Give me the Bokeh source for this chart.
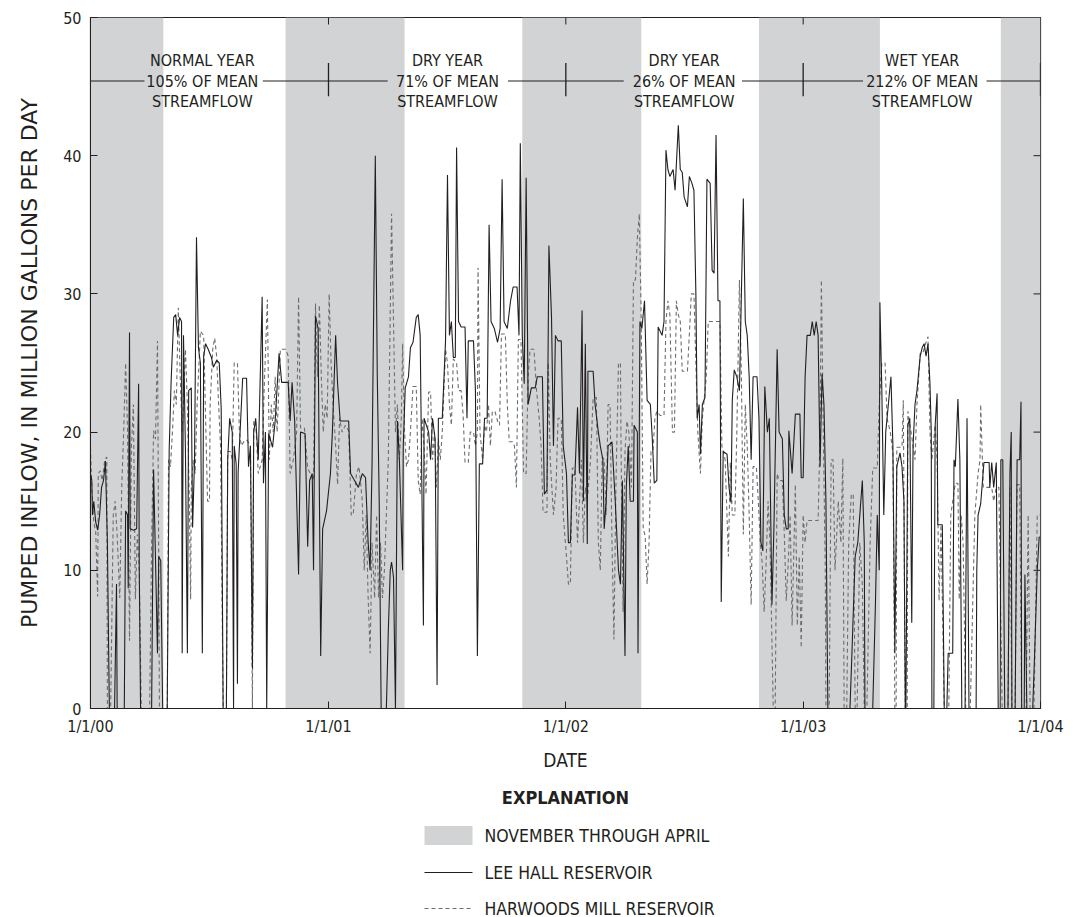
from bokeh.plotting import figure
from bokeh.layouts import column
from bokeh.models import Range1d, FixedTicker, Label
from bokeh.core.properties import value
from bokeh.embed import file_html
from bokeh.resources import INLINE

# Days are counted from 1 January 2000; values in million gallons per day.
year_ticks = [0, 366, 731, 1096, 1461]
year_labels = ["1/1/00", "1/1/01", "1/1/02", "1/1/03", "1/1/04"]
flow_ticks = [0, 10, 20, 30, 40, 50]

# November-through-April periods (day offsets)
band_start = [0, 300, 664, 1028, 1400]
band_end = [112, 483, 847, 1214, 1461]

# Water-year notes along the top of the chart
note_day = [172, 549, 913, 1279]
note_text = [
    "NORMAL YEAR\n105% OF MEAN\nSTREAMFLOW",
    "DRY YEAR\n71% OF MEAN\nSTREAMFLOW",
    "DRY YEAR\n26% OF MEAN\nSTREAMFLOW",
    "WET YEAR\n212% OF MEAN\nSTREAMFLOW",
]
note_rule_start = [0, 265, 642, 1002, 1378]
note_rule_end = [83, 457, 820, 1188, 1461]
note_rule_ticks = [366, 731, 1096, 1461]
NOTE_LEVEL = 45.4

# Lee Hall Reservoir pumped inflow
lee_day = [
    0, 2, 3, 5, 8, 11, 14, 17, 20, 23,
    26, 28, 29, 37, 40, 41, 52, 54, 57, 58,
    60, 61, 66, 71, 74, 75, 77, 94, 97, 100,
    103, 105, 108, 111, 118, 121, 124, 128, 131, 134,
    137, 140, 141, 143, 146, 149, 151, 155, 157, 160,
    163, 166, 169, 172, 174, 177, 181, 186, 189, 194,
    198, 201, 204, 209, 211, 214, 218, 220, 221, 224,
    226, 227, 234, 240, 243, 246, 249, 251, 254, 258,
    264, 266, 269, 271, 274, 280, 284, 290, 294, 304,
    307, 310, 314, 320, 323, 330, 334, 337, 341, 343,
    346, 350, 354, 357, 363, 369, 372, 377, 380, 384,
    397, 400, 406, 412, 418, 423, 427, 430, 433, 438,
    441, 444, 447, 455, 458, 461, 463, 466, 469, 472,
    475, 480, 481, 484, 489, 492, 496, 501, 504, 507,
    512, 513, 520, 523, 526, 530, 533, 535, 541, 546,
    549, 552, 555, 558, 561, 563, 566, 570, 576, 579,
    581, 589, 592, 595, 598, 603, 606, 610, 613, 616,
    621, 626, 630, 633, 636, 641, 646, 650, 656, 659,
    661, 664, 667, 670, 673, 678, 684, 687, 695, 698,
    702, 705, 709, 712, 715, 719, 724, 727, 732, 735,
    738, 741, 745, 749, 752, 756, 758, 761, 764, 765,
    773, 776, 781, 784, 788, 790, 793, 796, 802, 807,
    812, 815, 818, 822, 824, 827, 830, 835, 836, 841,
    842, 845, 848, 852, 856, 861, 864, 867, 871, 873,
    879, 882, 885, 888, 891, 896, 899, 904, 907, 910,
    913, 918, 921, 925, 928, 931, 933, 936, 938, 941,
    945, 948, 953, 956, 959, 962, 965, 968, 970, 973,
    979, 982, 985, 987, 990, 994, 998, 1001, 1004, 1007,
    1010, 1013, 1016, 1019, 1025, 1028, 1031, 1034, 1037, 1041,
    1044, 1048, 1051, 1056, 1059, 1064, 1067, 1070, 1073, 1074,
    1079, 1084, 1091, 1093, 1096, 1099, 1102, 1107, 1110, 1113,
    1116, 1119, 1122, 1125, 1128, 1131, 1134, 1168, 1171, 1176,
    1180, 1187, 1190, 1191, 1203, 1207, 1210, 1213, 1214, 1217,
    1220, 1223, 1227, 1231, 1234, 1237, 1240, 1245, 1248, 1251,
    1253, 1254, 1257, 1260, 1263, 1265, 1268, 1271, 1276, 1279,
    1282, 1285, 1288, 1291, 1293, 1294, 1297, 1299, 1302, 1303,
    1310, 1313, 1317, 1319, 1326, 1328, 1330, 1334, 1337, 1340,
    1345, 1348, 1351, 1362, 1363, 1365, 1369, 1374, 1382, 1383,
    1386, 1389, 1393, 1396, 1399, 1400, 1403, 1406, 1411, 1414,
    1416, 1417, 1422, 1425, 1429, 1431, 1432, 1436, 1437, 1440,
    1449, 1452, 1456, 1459, 1460,
]
lee_mgd = [
    17.0, 16.5, 14.0, 15.0, 13.5, 12.9, 14.0, 16.0, 16.5, 17.9,
    12.0, 3.8, 0, 0, 9.0, 0, 0, 14.3, 14.0, 8.7,
    27.2, 13.0, 12.9, 13.0, 23.5, 10.0, 0, 0, 17.3, 10.7,
    4.0, 11.0, 10.7, 0, 0, 18.7, 23.7, 28.3, 28.5, 27.0,
    28.3, 28.0, 4.0, 27.0, 18.7, 4.0, 23.0, 23.2, 13.1, 18.0,
    34.1, 26.1, 25.0, 4.0, 25.5, 26.4, 26.0, 25.4, 24.7, 25.2,
    25.0, 21.7, 0, 0, 18.0, 21.0, 20.0, 0, 19.0, 17.7,
    1.8, 17.0, 23.9, 23.9, 17.5, 19.0, 2.9, 20.0, 21.0, 18.0,
    29.8, 16.3, 20.0, 0, 19.9, 18.9, 20.8, 25.7, 23.6, 23.6,
    20.8, 23.6, 20.8, 9.7, 20.0, 19.9, 11.7, 16.5, 17.0, 10.0,
    28.4, 27.5, 3.8, 13.0, 14.3, 17.0, 20.0, 27.0, 23.5, 20.8,
    20.8, 17.0, 16.5, 16.0, 17.0, 16.7, 12.0, 10.0, 17.7, 40.0,
    24.2, 15.0, 0, 0, 5.6, 10.0, 10.6, 9.5, 0, 20.8,
    18.0, 10.0, 19.0, 23.2, 24.0, 26.1, 26.5, 28.3, 28.5, 27.0,
    6.0, 21.0, 20.0, 18.0, 21.0, 19.5, 1.7, 21.0, 21.0, 26.6,
    38.6, 27.0, 28.0, 25.4, 25.4, 40.6, 28.0, 27.6, 27.6, 21.0,
    26.6, 26.6, 23.0, 3.8, 17.7, 17.7, 21.0, 21.0, 35.0, 28.0,
    27.5, 26.5, 27.5, 38.3, 28.0, 27.5, 29.5, 30.5, 30.5, 27.0,
    40.9, 27.0, 23.5, 38.4, 22.0, 23.2, 23.2, 24.0, 24.0, 15.5,
    15.8, 33.5, 28.3, 19.0, 27.0, 26.6, 26.6, 19.0, 17.0, 12.0,
    12.0, 16.9, 16.9, 21.8, 17.0, 28.8, 15.0, 26.4, 11.9, 24.4,
    24.4, 22.0, 20.0, 19.0, 18.0, 13.0, 15.0, 19.0, 19.3, 15.0,
    10.0, 9.0, 16.5, 3.8, 16.0, 19.0, 15.0, 15.0, 20.5, 20.0,
    4.0, 28.0, 27.5, 29.5, 22.3, 22.0, 19.5, 16.3, 16.5, 27.6,
    27.0, 28.0, 40.4, 39.0, 38.5, 39.0, 37.5, 42.2, 39.0, 38.8,
    37.0, 36.3, 38.5, 38.0, 37.5, 30.0, 21.0, 22.0, 18.4, 22.0,
    22.5, 38.3, 38.0, 31.7, 31.5, 41.5, 29.5, 29.5, 7.7, 18.6,
    18.4, 16.0, 14.9, 22.3, 24.5, 24.0, 23.0, 30.0, 36.9, 28.0,
    27.0, 24.0, 18.0, 24.0, 24.0, 21.0, 12.0, 11.4, 23.3, 20.0,
    21.0, 7.5, 13.0, 26.0, 20.0, 19.5, 14.0, 13.0, 13.0, 20.1,
    17.0, 21.3, 21.3, 16.7, 16.7, 24.0, 27.0, 27.0, 28.0, 27.0,
    28.0, 27.0, 17.5, 24.2, 22.0, 15.0, 0, 0, 4.0, 11.0,
    12.0, 16.5, 12.0, 0, 0, 7.3, 14.0, 10.0, 29.4, 23.0,
    14.0, 20.0, 22.0, 24.0, 19.0, 4.0, 17.5, 18.5, 17.5, 15.0,
    0, 0, 20.5, 21.0, 6.2, 19.0, 22.0, 23.0, 25.5, 26.1,
    26.4, 25.5, 26.4, 23.5, 20.0, 0, 0, 20.5, 22.8, 13.3,
    13.3, 0, 0, 4.0, 4.0, 18.0, 17.5, 22.4, 18.0, 0,
    0, 21.0, 0, 0, 10.0, 14.0, 14.8, 17.8, 17.8, 16.0,
    17.8, 16.0, 17.8, 0, 0, 18.0, 18.0, 0, 0, 17.0,
    20.0, 0, 0, 18.0, 18.0, 22.2, 0, 0, 9.7, 0,
    0, 4.0, 10.0, 12.4, 12.4,
]

# Harwoods Mill Reservoir pumped inflow
harwoods_day = [
    0, 2, 5, 8, 11, 12, 15, 18, 22, 25,
    26, 31, 35, 38, 41, 45, 48, 51, 54, 57,
    60, 63, 66, 69, 72, 75, 78, 91, 94, 97,
    100, 103, 105, 106, 118, 120, 123, 126, 129, 132,
    135, 138, 141, 146, 149, 152, 154, 155, 158, 161,
    164, 169, 174, 177, 180, 183, 184, 188, 191, 194,
    197, 200, 204, 209, 211, 215, 218, 221, 226, 229,
    232, 237, 241, 246, 249, 251, 254, 258, 264, 267,
    272, 275, 278, 281, 284, 287, 292, 300, 304, 307,
    312, 317, 320, 323, 329, 334, 338, 343, 346, 349,
    352, 355, 358, 361, 364, 367, 370, 373, 377, 380,
    383, 387, 392, 397, 401, 404, 409, 413, 418, 421,
    424, 427, 430, 433, 437, 440, 443, 446, 449, 452,
    455, 458, 463, 466, 469, 472, 475, 478, 480, 483,
    486, 489, 492, 496, 501, 504, 507, 510, 513, 516,
    520, 523, 526, 529, 532, 535, 538, 541, 546, 549,
    552, 555, 558, 563, 566, 570, 573, 576, 581, 584,
    589, 592, 595, 596, 599, 603, 606, 609, 612, 615,
    618, 622, 626, 629, 632, 638, 641, 644, 649, 652,
    655, 658, 662, 666, 670, 673, 676, 682, 686, 690,
    693, 696, 702, 704, 707, 712, 716, 719, 724, 727,
    732, 735, 738, 741, 745, 749, 752, 755, 758, 761,
    764, 769, 773, 778, 781, 784, 787, 790, 793, 796,
    799, 802, 805, 808, 812, 815, 816, 819, 822, 825,
    828, 832, 835, 838, 841, 844, 847, 850, 853, 856,
    859, 862, 865, 868, 871, 876, 882, 885, 888, 891,
    895, 898, 901, 904, 907, 910, 918, 921, 924, 928,
    931, 934, 938, 941, 944, 947, 950, 968, 971, 976,
    981, 984, 987, 991, 994, 998, 1001, 1004, 1007, 1010,
    1013, 1016, 1019, 1024, 1027, 1030, 1033, 1036, 1039, 1042,
    1045, 1050, 1053, 1056, 1059, 1064, 1067, 1070, 1073, 1076,
    1079, 1084, 1087, 1090, 1093, 1096, 1099, 1102, 1119, 1122,
    1124, 1127, 1130, 1131, 1136, 1139, 1142, 1145, 1150, 1154,
    1157, 1159, 1163, 1166, 1170, 1173, 1176, 1179, 1183, 1187,
    1190, 1194, 1199, 1203, 1210, 1213, 1217, 1222, 1225, 1230,
    1234, 1237, 1239, 1240, 1248, 1250, 1253, 1256, 1257, 1262,
    1265, 1268, 1271, 1276, 1280, 1285, 1288, 1291, 1294, 1299,
    1302, 1305, 1308, 1313, 1320, 1323, 1330, 1334, 1336, 1339,
    1342, 1346, 1353, 1360, 1365, 1368, 1369, 1373, 1386, 1389,
    1393, 1397, 1402, 1411, 1414, 1417, 1422, 1425, 1429, 1432,
    1439, 1442, 1445, 1451, 1456, 1460,
]
harwoods_mgd = [
    18.9, 16.0, 13.5, 12.8, 8.1, 17.0, 17.2, 16.5, 18.0, 18.2,
    0, 0, 14.0, 15.0, 12.5, 8.0, 16.0, 20.0, 25.0, 20.1,
    4.9, 19.0, 22.0, 7.9, 12.6, 10.0, 0, 0, 12.0, 20.1,
    19.5, 26.6, 10.0, 0, 0, 18.0, 17.5, 20.0, 23.0, 22.0,
    29.0, 24.0, 20.0, 26.0, 22.0, 15.0, 7.9, 16.0, 18.0, 17.0,
    22.0, 27.3, 27.0, 21.0, 15.0, 15.0, 22.0, 26.0, 26.8, 25.5,
    22.0, 19.0, 0, 0, 18.6, 18.6, 18.0, 25.0, 25.0, 20.0,
    19.0, 19.4, 19.4, 19.0, 0, 20.8, 20.8, 17.0, 18.0, 23.0,
    29.6, 18.0, 22.0, 20.0, 24.0, 20.0, 26.0, 26.0, 25.5, 17.0,
    18.0, 20.0, 29.8, 20.3, 20.3, 17.4, 17.0, 16.5, 29.3, 24.0,
    29.2, 24.0, 20.0, 22.0, 21.0, 30.0, 25.0, 22.0, 19.0, 16.2,
    21.0, 20.0, 20.5, 20.1, 14.0, 14.0, 17.0, 17.5, 15.0, 10.0,
    14.0, 8.0, 4.0, 12.0, 8.0, 14.0, 8.0, 12.0, 8.0, 10.0,
    14.0, 18.0, 35.8, 28.0, 20.0, 22.0, 18.0, 21.0, 26.4, 20.0,
    17.5, 18.0, 20.0, 23.3, 23.3, 16.5, 15.5, 21.0, 19.0, 15.5,
    22.9, 22.9, 18.0, 20.0, 16.0, 19.5, 18.0, 20.0, 26.0, 25.0,
    22.0, 20.5, 25.3, 25.0, 23.0, 23.0, 21.3, 17.8, 17.8, 20.0,
    20.0, 19.0, 20.0, 31.9, 20.0, 18.0, 20.5, 20.0, 22.0, 19.0,
    21.5, 21.5, 20.8, 20.5, 27.1, 27.1, 22.0, 19.3, 19.3, 19.0,
    16.0, 26.7, 26.7, 17.0, 17.0, 24.0, 26.0, 26.0, 23.0, 21.0,
    19.0, 14.2, 14.2, 25.0, 18.0, 14.0, 16.0, 21.0, 21.0, 14.0,
    11.0, 9.0, 9.0, 17.4, 17.4, 12.0, 15.0, 18.0, 12.0, 16.0,
    15.0, 18.0, 22.5, 22.5, 12.0, 10.0, 18.2, 18.0, 14.0, 22.0,
    22.0, 12.0, 5.0, 16.0, 25.0, 25.0, 18.6, 7.0, 18.6, 20.8,
    20.0, 16.0, 31.0, 31.0, 34.0, 35.8, 28.0, 13.0, 12.5, 9.0,
    12.0, 18.6, 18.6, 21.0, 21.5, 21.2, 21.2, 28.0, 29.5, 28.5,
    20.0, 20.0, 29.5, 28.5, 28.0, 24.4, 24.4, 27.1, 30.0, 30.0,
    25.0, 20.0, 17.0, 21.0, 22.5, 24.0, 28.0, 28.0, 19.0, 18.0,
    11.0, 17.8, 14.0, 14.0, 20.0, 31.0, 24.0, 12.6, 22.0, 19.0,
    14.0, 7.5, 17.5, 17.5, 15.0, 12.0, 10.5, 7.0, 10.5, 15.0,
    12.0, 0, 0, 17.0, 16.5, 16.5, 12.6, 7.8, 10.5, 14.0,
    6.0, 16.2, 6.0, 11.0, 4.4, 14.0, 12.0, 13.6, 13.6, 20.0,
    31.0, 20.0, 10.0, 0, 0, 18.0, 18.0, 10.0, 15.0, 12.0,
    18.1, 0, 0, 12.0, 15.5, 15.5, 0, 0, 12.0, 9.0,
    0, 0, 12.0, 17.4, 17.4, 22.0, 25.0, 25.0, 21.0, 20.0,
    18.5, 0, 0, 18.9, 18.9, 22.3, 0, 0, 21.5, 20.0,
    19.0, 18.0, 22.0, 25.7, 25.7, 26.5, 26.9, 20.0, 18.0, 20.5,
    18.0, 7.8, 13.3, 0, 0, 14.0, 16.3, 16.3, 7.9, 14.0,
    12.0, 0, 0, 14.0, 17.0, 18.0, 22.0, 16.0, 16.0, 15.0,
    16.0, 16.0, 0, 0, 16.0, 0, 0, 16.2, 16.2, 0,
    0, 14.0, 0, 0, 14.0, 14.0,
]

# Explanation entries
key_labels = ["NOVEMBER THROUGH APRIL", "LEE HALL RESERVOIR", "HARWOODS MILL RESERVOIR"]

INK = "#231f20"
BAND = "#d1d3d4"
DASH_INK = "#6d6e71"
NARROW = "DejaVu Sans Condensed"
WIDE = "DejaVu Sans"

X_END = year_ticks[-1]
Y_END = flow_ticks[-1]
FRAME_W, FRAME_H = 950, 691
LEFT, RIGHT, TOP, BOTTOM = 90, 39, 17, 72
TICK_PX = 7

p = figure(
    frame_width=FRAME_W, frame_height=FRAME_H,
    x_range=Range1d(0, X_END), y_range=Range1d(0, Y_END),
    output_backend="svg", toolbar_location=None,
    min_border_left=LEFT, min_border_right=RIGHT,
    min_border_top=TOP, min_border_bottom=BOTTOM,
    background_fill_color="white", border_fill_color="white",
    outline_line_color=INK, outline_line_width=1.2,
)
p.xgrid.visible = False
p.ygrid.visible = False

p.quad(left=band_start, right=band_end, bottom=0, top=Y_END,
       fill_color=BAND, line_color=None)
p.line(harwoods_day, harwoods_mgd, line_color=DASH_INK,
       line_width=1.1, line_dash="4 3")
p.line(lee_day, lee_mgd, line_color=INK, line_width=1.1)

# Water-year notes with a broken rule through the middle line
p.text(x=note_day, y=[NOTE_LEVEL] * len(note_day), text=note_text,
       text_align="center", text_baseline="middle",
       text_font=value(NARROW), text_font_size="16px",
       text_line_height=1.07, text_color=INK)
p.segment(x0=note_rule_start, y0=[NOTE_LEVEL] * len(note_rule_start),
          x1=note_rule_end, y1=[NOTE_LEVEL] * len(note_rule_end),
          line_color=INK, line_width=1.1)
p.segment(x0=note_rule_ticks, y0=[44.3] * len(note_rule_ticks),
          x1=note_rule_ticks, y1=[46.7] * len(note_rule_ticks),
          line_color=INK, line_width=1.3)

# Inward tick marks along the top and right edges
dy = Y_END * TICK_PX / FRAME_H
dx = X_END * TICK_PX / FRAME_W
top_ticks = year_ticks[1:-1]
right_ticks = flow_ticks[1:-1]
p.segment(x0=top_ticks, y0=[Y_END] * len(top_ticks),
          x1=top_ticks, y1=[Y_END - dy] * len(top_ticks),
          line_color=INK, line_width=1)
p.segment(x0=[X_END] * len(right_ticks), y0=right_ticks,
          x1=[X_END - dx] * len(right_ticks), y1=right_ticks,
          line_color=INK, line_width=1)

# Bottom date axis
xa = p.xaxis[0]
xa.ticker = FixedTicker(ticks=year_ticks)
xa.major_label_overrides = {d: s for d, s in zip(year_ticks, year_labels)}
xa.major_tick_in = TICK_PX
xa.major_tick_out = 0
xa.minor_tick_in = 0
xa.minor_tick_out = 0
xa.major_label_standoff = 8
xa.major_label_text_font = NARROW
xa.major_label_text_font_size = "16px"
xa.major_label_text_color = INK
xa.axis_line_color = INK
xa.major_tick_line_color = INK
xa.axis_label = "DATE"
xa.axis_label_standoff = 10
xa.axis_label_text_font = NARROW
xa.axis_label_text_font_style = "normal"
xa.axis_label_text_font_size = "19px"
xa.axis_label_text_color = INK

# Left flow axis
ya = p.yaxis[0]
ya.ticker = FixedTicker(ticks=flow_ticks)
ya.major_tick_in = TICK_PX
ya.major_tick_out = 0
ya.minor_tick_in = 0
ya.minor_tick_out = 0
ya.major_label_standoff = 9
ya.major_label_text_font = NARROW
ya.major_label_text_font_size = "16px"
ya.major_label_text_color = INK
ya.axis_line_color = INK
ya.major_tick_line_color = INK
ya.axis_label = "PUMPED INFLOW, IN MILLION GALLONS PER DAY"
ya.axis_label_standoff = 18
ya.axis_label_text_font = WIDE
ya.axis_label_text_font_style = "normal"
ya.axis_label_text_font_size = "22px"
ya.axis_label_text_color = INK

# Explanation block underneath; its coordinates are page pixels
KEY_H = 137
key = figure(
    frame_width=FRAME_W, frame_height=KEY_H,
    x_range=Range1d(LEFT, LEFT + FRAME_W), y_range=Range1d(0, KEY_H),
    output_backend="svg", toolbar_location=None,
    min_border_left=LEFT, min_border_right=RIGHT,
    min_border_top=0, min_border_bottom=0,
    x_axis_location=None, y_axis_location=None,
    outline_line_color=None,
    background_fill_color="white", border_fill_color="white",
)
key.xgrid.visible = False
key.ygrid.visible = False

SWATCH_L, SWATCH_R = 424, 472
ROW_Y = [KEY_H - 55, KEY_H - 92, KEY_H - 128]
key.add_layout(Label(x=LEFT + FRAME_W / 2, y=KEY_H - 17, text="EXPLANATION",
                     text_align="center", text_baseline="middle",
                     text_font=NARROW, text_font_style="bold",
                     text_font_size="18px", text_color=INK))
key.quad(left=[SWATCH_L], right=[SWATCH_R],
         bottom=[ROW_Y[0] - 9.5], top=[ROW_Y[0] + 9.5],
         fill_color=BAND, line_color=None)
key.segment(x0=[SWATCH_L], y0=[ROW_Y[1]], x1=[SWATCH_R], y1=[ROW_Y[1]],
            line_color=INK, line_width=1.1)
key.segment(x0=[SWATCH_L], y0=[ROW_Y[2]], x1=[SWATCH_R], y1=[ROW_Y[2]],
            line_color=DASH_INK, line_width=1.1, line_dash="4 3")
key.text(x=[SWATCH_R + 12] * 3, y=ROW_Y, text=key_labels,
         text_align="left", text_baseline="middle",
         text_font=value(NARROW), text_font_size="17.5px", text_color=INK)

layout = column(p, key, spacing=0)
open("out.html", "w").write(file_html(layout, INLINE))
